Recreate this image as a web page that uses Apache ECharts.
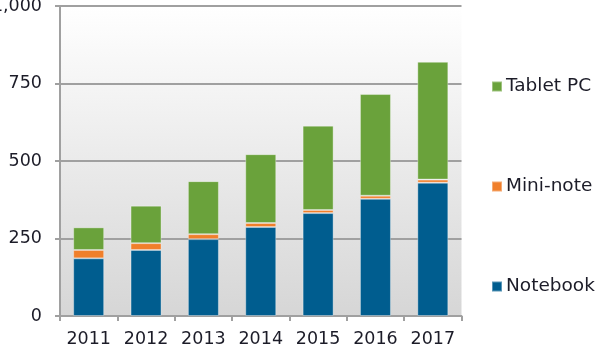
<!DOCTYPE html>
<html>
<head>
<meta charset="utf-8">
<script src="https://cdn.jsdelivr.net/npm/echarts@6/dist/echarts.min.js"></script>
<style>
html,body{margin:0;padding:0;background:#fff;}
#chart{width:600px;height:350px;}
</style>
</head>
<body>
<div id="chart"></div>
<script>
// Unit shipments by device type, 2011-2017
const years = ['2011', '2012', '2013', '2014', '2015', '2016', '2017'];
const notebook = [186, 213, 248, 287, 332, 378, 430];
const miniNote = [27, 22, 16, 13, 10, 10, 10];
const tabletPC = [73, 121, 171, 222, 272, 328, 380];
const yTicks = [0, 250, 500, 750, 1000];

const FONT = 'DejaVu Sans';
const TEXT = '#1c1c28';
const COLORS = { notebook: '#005d8f', mini: '#f07f2b', tablet: '#6aa23b' };

const chart = echarts.init(document.getElementById('chart'), null, { renderer: 'canvas' });

function legendAt(name, top) {
  return {
    data: [name],
    left: 491,
    top: top,
    padding: 0,
    itemWidth: 10,
    itemHeight: 10,
    itemGap: 0,
    icon: 'rect',
    textStyle: { fontFamily: FONT, fontSize: 18.5, color: TEXT, padding: [0, 0, 0, -1] }
  };
}

const barBorder = { borderColor: 'rgba(255,255,255,0.35)', borderWidth: 1 };

chart.setOption({
  animation: false,
  backgroundColor: '#ffffff',
  grid: {
    left: 60, right: 138.5, top: 6, bottom: 34,
    outerBoundsMode: 'none',
    containLabel: false,
    show: true,
    borderWidth: 0,
    backgroundColor: new echarts.graphic.LinearGradient(0, 0, 0, 1, [
      { offset: 0, color: '#ffffff' },
      { offset: 1, color: '#d6d6d6' }
    ])
  },
  legend: [
    legendAt('Tablet PC', 77),
    legendAt('Mini-note', 177),
    legendAt('Notebook', 277)
  ],
  xAxis: {
    type: 'category',
    data: years,
    axisLine: { show: true, lineStyle: { color: '#a0a0a0', width: 2 } },
    axisTick: { show: true, length: 5, alignWithLabel: false, lineStyle: { color: '#a0a0a0', width: 2 } },
    axisLabel: { fontFamily: FONT, fontSize: 17.5, color: TEXT, margin: 14, interval: 0 }
  },
  yAxis: {
    type: 'value',
    min: yTicks[0],
    max: yTicks[yTicks.length - 1],
    interval: yTicks[1] - yTicks[0],
    axisLine: { show: true, lineStyle: { color: '#a0a0a0', width: 2 } },
    axisTick: { show: true, length: 5, lineStyle: { color: '#a0a0a0', width: 2 } },
    splitLine: { show: true, lineStyle: { color: '#a0a0a0', width: 2 } },
    axisLabel: {
      fontFamily: FONT, fontSize: 17.5, color: TEXT, margin: 18,
      formatter: v => v.toLocaleString('en-US')
    }
  },
  series: [
    { name: 'Notebook', type: 'bar', stack: 'total', barWidth: 31, data: notebook,
      itemStyle: Object.assign({ color: COLORS.notebook }, barBorder) },
    { name: 'Mini-note', type: 'bar', stack: 'total', barWidth: 31, data: miniNote,
      itemStyle: Object.assign({ color: COLORS.mini }, barBorder) },
    { name: 'Tablet PC', type: 'bar', stack: 'total', barWidth: 31, data: tabletPC,
      itemStyle: Object.assign({ color: COLORS.tablet }, barBorder) }
  ]
});
</script>
</body>
</html>
